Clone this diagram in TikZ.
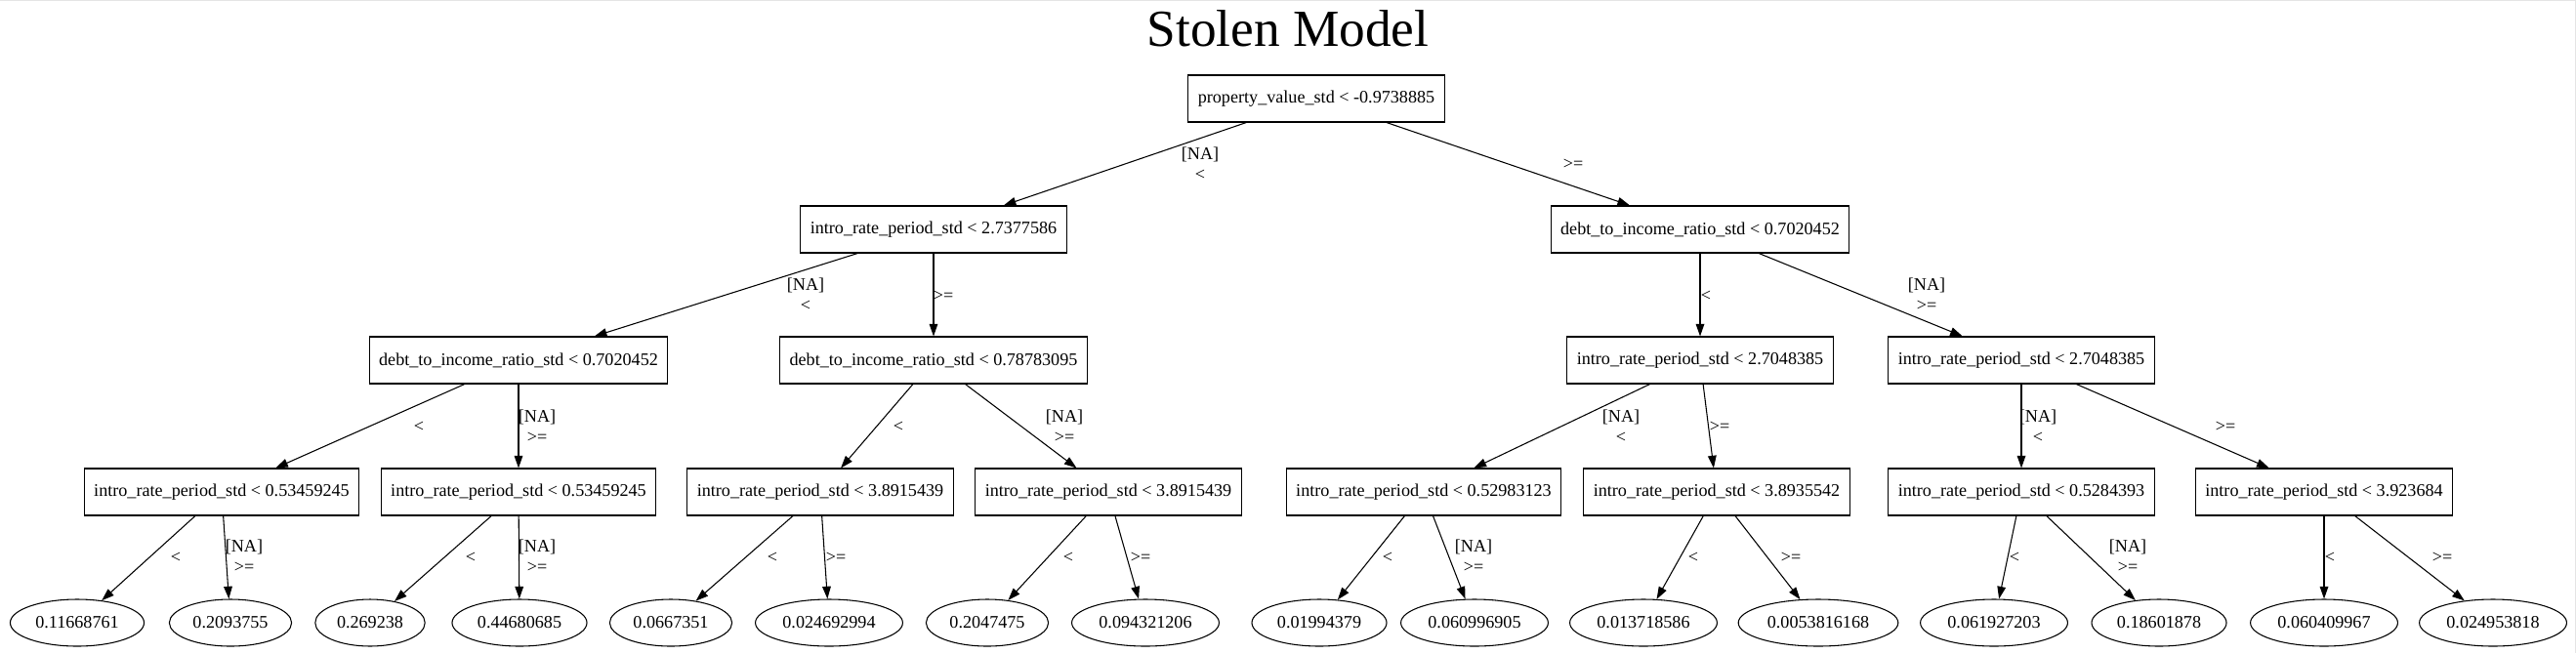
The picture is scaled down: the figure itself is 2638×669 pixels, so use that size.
\documentclass[tikz,border=0pt]{standalone}
\usepackage{fontspec}
\setmainfont{Liberation Serif}
\usepackage{tikz}
\usetikzlibrary{arrows.meta,shapes.geometric}

\begin{document}
\begin{tikzpicture}[
    x=0.75pt, y=-0.75pt,
    split/.style={draw, thick, rectangle, minimum height=36pt, inner xsep=7.5pt,
      font=\fontsize{13.6}{16}\selectfont},
    leaf/.style={draw, thick, ellipse, minimum height=36pt, inner xsep=4.3pt,
      inner ysep=2pt, font=\fontsize{13.6}{16}\selectfont},
    edge/.style={thick, -{Triangle[length=9.5pt,width=6.5pt]}},
    elab/.style={align=center, inner sep=0pt, font=\fontsize{13.6}{16}\selectfont},
    every node/.style={color=black}
    ]

\useasboundingbox (0,0) rectangle (2638,669);
\draw[gray!20, line width=1.1pt] (0,0.7) -- (2637.3,0.7) -- (2637.3,669);

\node[anchor=base, font=\fontsize{40}{48}\selectfont] (title) at (1319,47) {Stolen Model};

% splits
\node[split] (root) at (1348,101) {property\_value\_std < -0.9738885};

\node[split] (L) at (956,235) {intro\_rate\_period\_std < 2.7377586};
\node[split] (R) at (1741,235) {debt\_to\_income\_ratio\_std < 0.7020452};

\node[split] (LL) at (531,369) {debt\_to\_income\_ratio\_std < 0.7020452};
\node[split] (LR) at (956,369) {debt\_to\_income\_ratio\_std < 0.78783095};
\node[split] (RL) at (1741,369) {intro\_rate\_period\_std < 2.7048385};
\node[split] (RR) at (2070,369) {intro\_rate\_period\_std < 2.7048385};

\node[split] (LLL) at (227,504) {intro\_rate\_period\_std < 0.53459245};
\node[split] (LLR) at (531,504) {intro\_rate\_period\_std < 0.53459245};
\node[split] (LRL) at (840,504) {intro\_rate\_period\_std < 3.8915439};
\node[split] (LRR) at (1135,504) {intro\_rate\_period\_std < 3.8915439};
\node[split] (RLL) at (1458,504) {intro\_rate\_period\_std < 0.52983123};
\node[split] (RLR) at (1758,504) {intro\_rate\_period\_std < 3.8935542};
\node[split] (RRL) at (2070,504) {intro\_rate\_period\_std < 0.5284393};
\node[split] (RRR) at (2380,504) {intro\_rate\_period\_std < 3.923684};

% leaves
\node[leaf] (v1) at (79,638) {0.11668761};
\node[leaf] (v2) at (236,638) {0.2093755};
\node[leaf] (v3) at (379,638) {0.269238};
\node[leaf] (v4) at (532,638) {0.44680685};
\node[leaf] (v5) at (687,638) {0.0667351};
\node[leaf] (v6) at (849,638) {0.024692994};
\node[leaf] (v7) at (1011,638) {0.2047475};
\node[leaf] (v8) at (1173,638) {0.094321206};
\node[leaf] (v9) at (1351,638) {0.01994379};
\node[leaf] (v10) at (1510,638) {0.060996905};
\node[leaf] (v11) at (1683,638) {0.013718586};
\node[leaf] (v12) at (1862,638) {0.0053816168};
\node[leaf] (v13) at (2042,638) {0.061927203};
\node[leaf] (v14) at (2211,638) {0.18601878};
\node[leaf] (v15) at (2380,638) {0.060409967};
\node[leaf] (v16) at (2553,638) {0.024953818};

% edges
\foreach \a/\b in {root/L, root/R, L/LL, L/LR, R/RL, R/RR,
    LL/LLL, LL/LLR, LR/LRL, LR/LRR, RL/RLL, RL/RLR, RR/RRL, RR/RRR,
    LLL/v1, LLL/v2, LLR/v3, LLR/v4, LRL/v5, LRL/v6, LRR/v7, LRR/v8,
    RLL/v9, RLL/v10, RLR/v11, RLR/v12, RRL/v13, RRL/v14, RRR/v15, RRR/v16}
  \draw[edge] (\a) -- (\b);

% edge labels
\node[elab] (t1) at (1229,168) {[NA]\\<};
\node[elab] (t2) at (1611,168) {>=};
\node[elab] (t3) at (825,302) {[NA]\\<};
\node[elab] (t4) at (966,303) {>=};
\node[elab] (t5) at (1747,303) {<};
\node[elab] (t6) at (1973,302) {[NA]\\>=};

\node[elab] (t7) at (429,437) {<};
\node[elab] (t8) at (550,437) {[NA]\\>=};
\node[elab] (t9) at (920,437) {<};
\node[elab] (t10) at (1090,437) {[NA]\\>=};
\node[elab] (t11) at (1660,437) {[NA]\\<};
\node[elab] (t12) at (1761,437) {>=};
\node[elab] (t13) at (2087,437) {[NA]\\<};
\node[elab] (t14) at (2279,437) {>=};

\node[elab] (t15) at (180,571) {<};
\node[elab] (t16) at (250,570) {[NA]\\>=};
\node[elab] (t17) at (482,571) {<};
\node[elab] (t18) at (550,570) {[NA]\\>=};
\node[elab] (t19) at (791,571) {<};
\node[elab] (t20) at (856,571) {>=};
\node[elab] (t21) at (1094,571) {<};
\node[elab] (t22) at (1168,571) {>=};
\node[elab] (t23) at (1421,571) {<};
\node[elab] (t24) at (1509,570) {[NA]\\>=};
\node[elab] (t25) at (1734,571) {<};
\node[elab] (t26) at (1834,571) {>=};
\node[elab] (t27) at (2063,571) {<};
\node[elab] (t28) at (2179,570) {[NA]\\>=};
\node[elab] (t29) at (2386,571) {<};
\node[elab] (t30) at (2501,571) {>=};

\end{tikzpicture}
\end{document}
